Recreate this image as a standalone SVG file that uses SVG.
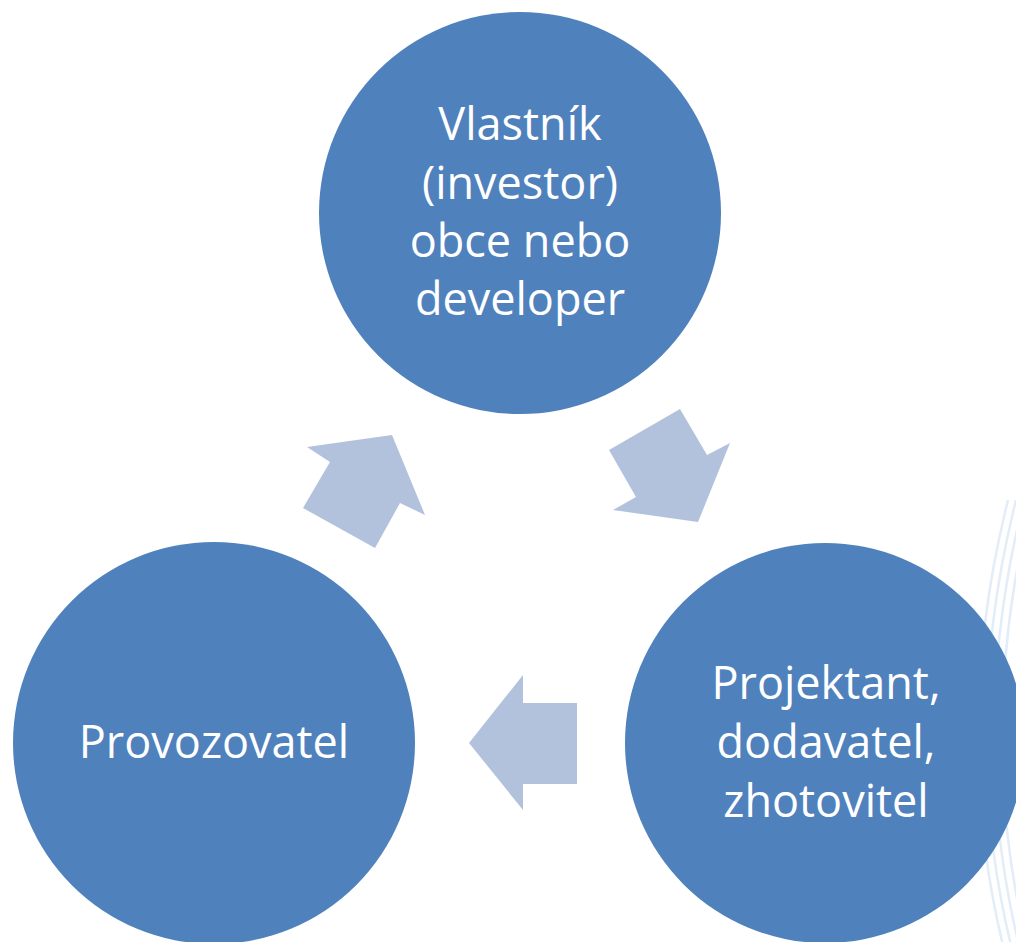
<svg xmlns="http://www.w3.org/2000/svg" width="1016" height="942" viewBox="0 0 1016 942">
<style>
.bg{fill:none;stroke:#E3EDF8;stroke-width:2.5}
.node{fill:#4F81BD}
.arrow{fill:#B2C2DD}
.lbl{font-family:"Open Sans","Noto Sans",sans-serif;font-size:45px;fill:#FFFFFF;text-anchor:middle}
</style>
<rect width="1016" height="942" fill="#FFFFFF"/>
<g id="background">
<path class="bg" d="M1008 500 Q948 740 1008 965"/>
<path class="bg" d="M1016 500 Q956 740 1016 965"/>
<path class="bg" d="M1024 500 Q964 740 1024 965"/>
<path class="bg" d="M1032 500 Q972 740 1032 965"/>
</g>
<g id="connectors">
<polygon class="arrow" points="307,447 392,435 425,515 400,503 375,548 303,508 330,462"/>
<polygon class="arrow" points="609,450 680,409 707,455 730,443 698,522 613,510 636,497"/>
<polygon class="arrow" points="469,743 523,675 523,703 577,703 577,784 523,784 523,810"/>
</g>
<g id="node-vlastnik">
<circle class="node" cx="520" cy="213" r="201"/>
<text class="lbl" x="520" y="140">Vlastník</text>
<text class="lbl" x="520" y="198.5">(investor)</text>
<text class="lbl" x="520" y="257">obce nebo</text>
<text class="lbl" x="520" y="315">developer</text>
</g>
<g id="node-projektant">
<circle class="node" cx="825" cy="743" r="200"/>
<text class="lbl" x="826" y="699">Projektant,</text>
<text class="lbl" x="826" y="758">dodavatel,</text>
<text class="lbl" x="826" y="817">zhotovitel</text>
</g>
<g id="node-provozovatel">
<circle class="node" cx="214" cy="743" r="201"/>
<text class="lbl" x="214" y="758">Provozovatel</text>
</g>
</svg>
